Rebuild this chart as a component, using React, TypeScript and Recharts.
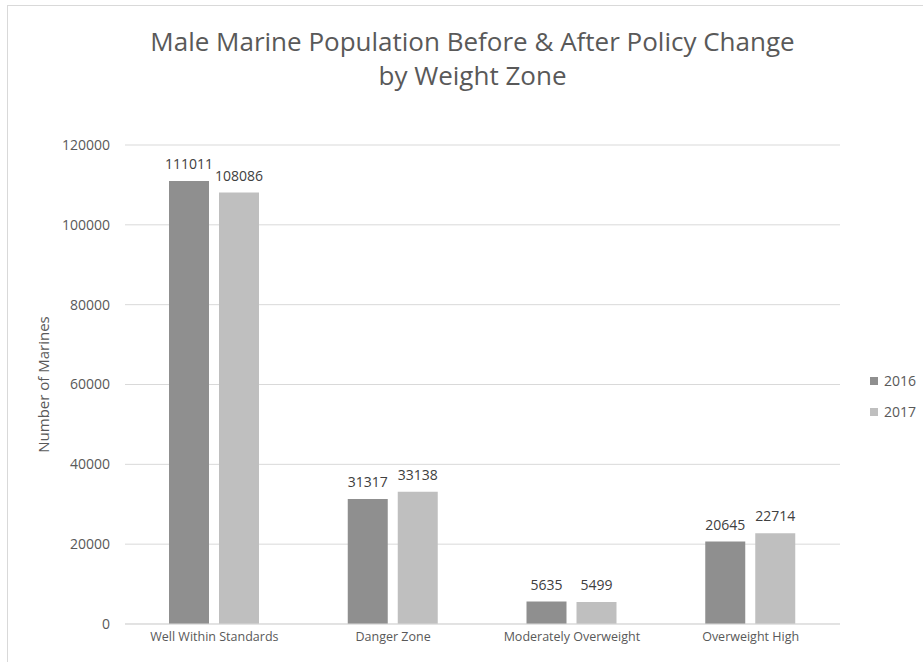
import React from 'react';
import { BarChart, Bar, XAxis, YAxis, CartesianGrid, Legend, LabelList } from 'recharts';

const categories = ['Well Within Standards', 'Danger Zone', 'Moderately Overweight', 'Overweight High'];
const values2016 = [111011, 31317, 5635, 20645];
const values2017 = [108086, 33138, 5499, 22714];
const yTicks = [0, 20000, 40000, 60000, 80000, 100000, 120000];

const data = categories.map((name, i) => ({
  name,
  y2016: values2016[i],
  y2017: values2017[i],
}));

const FONT = '"Open Sans", "Liberation Sans", sans-serif';
const DARK = '#8f8f8f';
const LIGHT = '#bfbfbf';
const TEXT = '#595959';

const LegendContent = () => (
  <div style={{ fontFamily: FONT, fontSize: 14, color: TEXT }}>
    {[
      { label: '2016', color: DARK },
      { label: '2017', color: LIGHT },
    ].map((item) => (
      <div key={item.label} style={{ display: 'flex', alignItems: 'center', height: 31 }}>
        <span style={{ width: 8, height: 8, background: item.color, marginRight: 6 }} />
        <span>{item.label}</span>
      </div>
    ))}
  </div>
);

export default function App() {
  return (
    <div style={{ position: 'absolute', left: 0, top: 0, width: 923, height: 662, background: '#fff', overflow: 'hidden' }}>
      <div
        style={{
          position: 'absolute',
          left: 7,
          top: 5,
          width: 940,
          height: 680,
          borderLeft: '1px solid #d9d9d9',
          borderTop: '1px solid #d9d9d9',
        }}
      />
      <div
        style={{
          position: 'absolute',
          left: 0,
          top: 24,
          width: 945,
          textAlign: 'center',
          fontFamily: FONT,
          fontSize: 26,
          lineHeight: '34px',
          color: TEXT,
        }}
      >
        Male Marine Population Before &amp; After Policy Change
        <br />
        by Weight Zone
      </div>
      <div style={{ position: 'absolute', left: 0, top: 0 }}>
        <BarChart
          width={923}
          height={662}
          data={data}
          margin={{ top: 145, right: 23, bottom: 8, left: 0 }}
          barSize={40}
          barGap={10}
        >
          <CartesianGrid vertical={false} stroke="#d9d9d9" />
          <XAxis
            dataKey="name"
            height={30}
            axisLine={{ stroke: '#d9d9d9' }}
            tickLine={false}
            interval={0}
            tick={{ fill: TEXT, fontSize: 12.5, fontFamily: FONT }}
          />
          <YAxis
            width={125}
            domain={[0, 120000]}
            ticks={yTicks}
            axisLine={false}
            tickLine={false}
            tickMargin={9}
            tick={{ fill: TEXT, fontSize: 14, fontFamily: FONT }}
            label={{
              value: 'Number of Marines',
              angle: -90,
              position: 'insideLeft',
              offset: 44,
              style: { textAnchor: 'middle', fill: TEXT, fontSize: 15, fontFamily: FONT },
            }}
          />
          <Legend
            verticalAlign="middle"
            align="right"
            layout="vertical"
            content={<LegendContent />}
            wrapperStyle={{ left: 870, top: 365, width: 60 }}
          />
          <Bar dataKey="y2016" name="2016" fill={DARK} isAnimationActive={false}>
            <LabelList dataKey="y2016" position="top" offset={12} fill="#404040" fontSize={14} fontFamily={FONT} />
          </Bar>
          <Bar dataKey="y2017" name="2017" fill={LIGHT} isAnimationActive={false}>
            <LabelList dataKey="y2017" position="top" offset={12} fill="#404040" fontSize={14} fontFamily={FONT} />
          </Bar>
        </BarChart>
      </div>
    </div>
  );
}
